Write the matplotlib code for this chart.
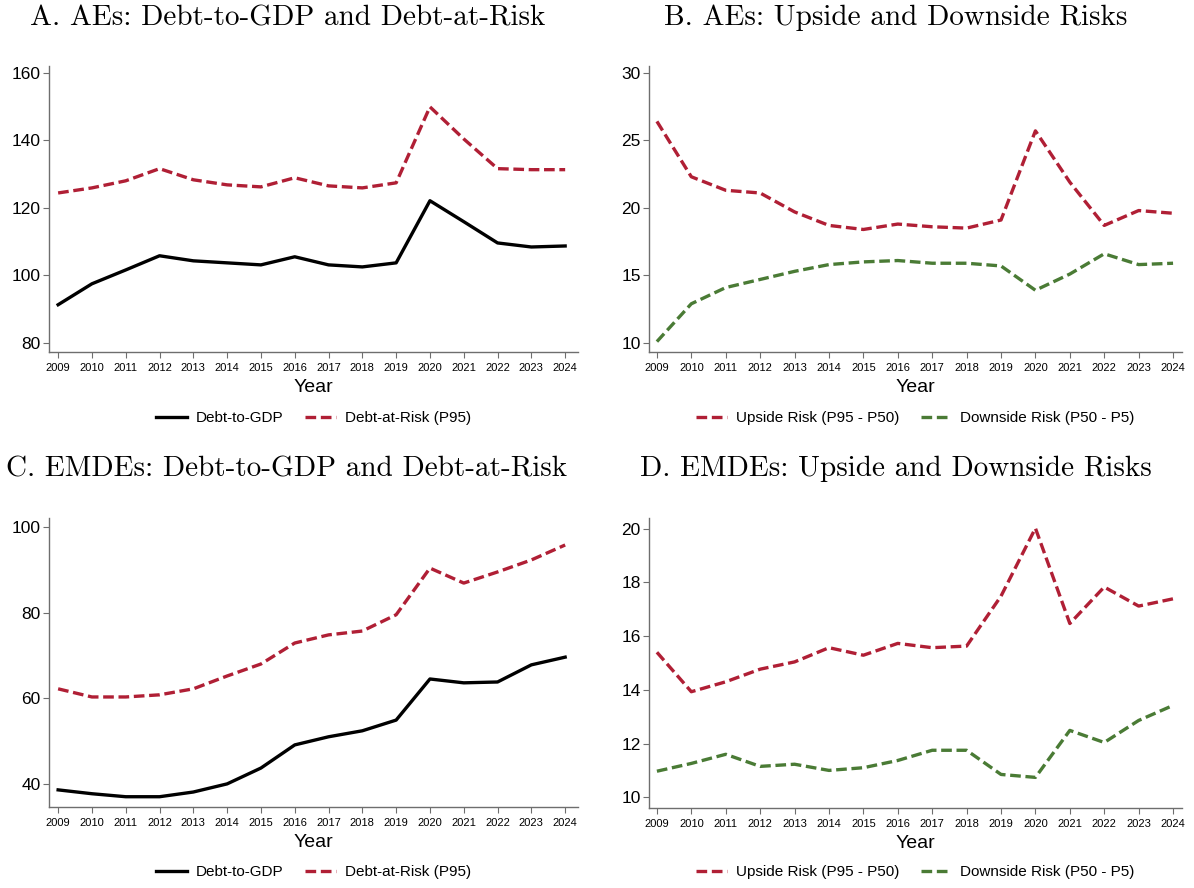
import numpy as np
import matplotlib.pyplot as plt

years = np.arange(2009, 2025)

# Panel A: advanced economies
ae_debt = [91.3, 97.5, 101.6, 105.8, 104.3, 103.7, 103.1, 105.5, 103.1, 102.5, 103.7, 122.1, 115.9, 109.6, 108.4, 108.7]
ae_dar = [124.4, 125.9, 128.0, 131.6, 128.3, 126.8, 126.2, 128.9, 126.5, 125.9, 127.4, 149.9, 140.4, 131.6, 131.3, 131.3]

# Panel B: advanced economies risks
ae_up = [26.4, 22.3, 21.3, 21.1, 19.7, 18.7, 18.4, 18.8, 18.6, 18.5, 19.1, 25.7, 21.9, 18.7, 19.8, 19.6]
ae_down = [10.1, 12.9, 14.1, 14.7, 15.3, 15.8, 16.0, 16.1, 15.9, 15.9, 15.7, 13.9, 15.1, 16.6, 15.8, 15.9]

# Panel C: emerging and developing economies
em_debt = [38.6, 37.7, 37.0, 37.0, 38.1, 40.0, 43.7, 49.1, 51.0, 52.4, 54.9, 64.5, 63.6, 63.8, 67.8, 69.6]
em_dar = [62.2, 60.3, 60.3, 60.8, 62.2, 65.2, 68.0, 72.9, 74.8, 75.7, 79.5, 90.4, 86.9, 89.5, 92.3, 95.8]

# Panel D: emerging and developing economies risks
em_up = [15.4, 13.93, 14.3, 14.77, 15.04, 15.57, 15.29, 15.73, 15.57, 15.63, 17.49, 20.02, 16.47, 17.83, 17.12, 17.39]
em_down = [10.97, 11.26, 11.6, 11.15, 11.23, 11.0, 11.1, 11.37, 11.75, 11.75, 10.85, 10.74, 12.49, 12.04, 12.86, 13.42]

titles = ["A. AEs: Debt-to-GDP and Debt-at-Risk",
          "B. AEs: Upside and Downside Risks",
          "C. EMDEs: Debt-to-GDP and Debt-at-Risk",
          "D. EMDEs: Upside and Downside Risks"]

red = '#B01F35'
green = '#4A7B35'
spine_col = '#6E6E6E'

plt.rcParams['font.family'] = ['Liberation Sans', 'DejaVu Sans']

fig = plt.figure(figsize=(11.94, 8.88), dpi=100, facecolor='white')
W, H = 1194, 888


def make_axes(left, top, right, bottom):
    return fig.add_axes([left / W, 1 - bottom / H, (right - left) / W, (bottom - top) / H])


axA = make_axes(49, 66, 578, 352)
axB = make_axes(649, 66, 1182, 352)
axC = make_axes(49, 518, 578, 807)
axD = make_axes(649, 518, 1182, 808)

dash = (3.2, 1.4)
lw = 2.4

axA.plot(years, ae_debt, color='black', lw=lw, label='Debt-to-GDP')
axA.plot(years, ae_dar, color=red, lw=lw, dashes=dash, label='Debt-at-Risk (P95)')
axA.set_ylim(77.3, 162)
axA.set_yticks([80, 100, 120, 140, 160])
axA.set_xlim(2008.73, 2024.38)

axB.plot(years, ae_up, color=red, lw=lw, dashes=dash, label='Upside Risk (P95 - P50)')
axB.plot(years, ae_down, color=green, lw=lw, dashes=dash, label='Downside Risk (P50 - P5)')
axB.set_ylim(9.33, 30.5)
axB.set_yticks([10, 15, 20, 25, 30])
axB.set_xlim(2008.77, 2024.26)

axC.plot(years, em_debt, color='black', lw=lw, label='Debt-to-GDP')
axC.plot(years, em_dar, color=red, lw=lw, dashes=dash, label='Debt-at-Risk (P95)')
axC.set_ylim(34.6, 102.1)
axC.set_yticks([40, 60, 80, 100])
axC.set_xlim(2008.73, 2024.38)

axD.plot(years, em_up, color=red, lw=lw, dashes=dash, label='Upside Risk (P95 - P50)')
axD.plot(years, em_down, color=green, lw=lw, dashes=dash, label='Downside Risk (P50 - P5)')
axD.set_ylim(9.6, 20.4)
axD.set_yticks([10, 12, 14, 16, 18, 20])
axD.set_xlim(2008.77, 2024.26)

legend_y = {axA: -0.231, axB: -0.231, axC: -0.225, axD: -0.221}

for ax in [axA, axB, axC, axD]:
    ax.spines['top'].set_visible(False)
    ax.spines['right'].set_visible(False)
    for s in ['left', 'bottom']:
        ax.spines[s].set_color(spine_col)
        ax.spines[s].set_linewidth(1.0)
    ax.set_xticks(years)
    ax.tick_params(axis='x', labelsize=8, length=4, color=spine_col, pad=4)
    ax.tick_params(axis='y', labelsize=12.5, length=4, color=spine_col, pad=2)
    ax.set_xlabel('Year', fontsize=14, labelpad=4)
    ax.legend(loc='center', bbox_to_anchor=(0.5, legend_y[ax]), ncol=2,
              frameon=False, fontsize=11, handlelength=2.0, handletextpad=0.6,
              columnspacing=1.4)

fig.text(288 / W, 1 - 18 / H, titles[0], family='cmr10', fontsize=21, ha='center', va='center')
fig.text(896 / W, 1 - 18 / H, titles[1], family='cmr10', fontsize=21, ha='center', va='center')
fig.text(287 / W, 1 - 469 / H, titles[2], family='cmr10', fontsize=21, ha='center', va='center')
fig.text(896 / W, 1 - 469 / H, titles[3], family='cmr10', fontsize=21, ha='center', va='center')

plt.savefig('out.png', dpi=100, facecolor='white')
